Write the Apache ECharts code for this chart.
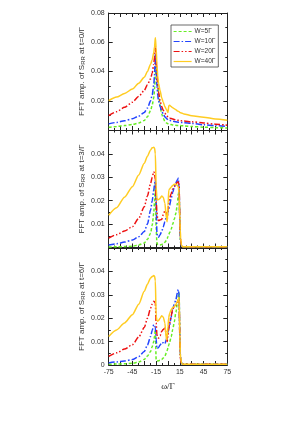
<!DOCTYPE html>
<html><head><meta charset="utf-8">
<script src="https://cdn.jsdelivr.net/npm/echarts@6/dist/echarts.min.js"></script>
<style>html,body{margin:0;padding:0;background:#fff}#c{width:300px;height:424px}</style>
</head><body><div id="c"></div>
<script>
var xs = [-75,-65,-55,-45,-37,-30,-26,-22,-20,-18,-17,-16,-15,-14,-13,-12,-10,-8,-6,-4,-2,-1,0,1,2,4,6,8,10,12,13,14,15,15.5,16,17,18,20,30,45,60,75];
var names = ['W=5\u0393','W=10\u0393','W=20\u0393','W=40\u0393'];
var xTicks = [-75,-45,-15,15,45,75];
var yLabels1 = ['0.02','0.04','0.06','0.08'];
var yLabels2 = ['0.01','0.02','0.03','0.04'];
var yLabels3 = ['0','0.01','0.02','0.03','0.04'];
var panelTitles = ['0','3','6'];

// panel 1 (t=0)
var p1_w5  = [0.0019,0.0024,0.003,0.0038,0.0048,0.0065,0.009,0.0133,0.017,0.022,0.028,0.037,0.045,0.038,0.031,0.025,0.017,0.011,0.008,0.006,0.005,0.0045,0.0042,0.004,0.0039,0.0037,0.0035,0.0033,0.0032,0.0031,0.0031,0.003,0.003,0.003,0.003,0.0029,0.0029,0.0028,0.0024,0.0019,0.0016,0.0014];
var p1_w10 = [0.0042,0.0052,0.0063,0.0077,0.0095,0.012,0.015,0.020,0.024,0.031,0.038,0.052,0.042,0.030,0.024,0.020,0.016,0.013,0.011,0.009,0.008,0.0075,0.007,0.0068,0.0066,0.0063,0.006,0.0058,0.0056,0.0054,0.0053,0.0053,0.0052,0.0052,0.0052,0.0051,0.0051,0.005,0.0045,0.0036,0.003,0.0024];
var p1_w20 = [0.0099,0.0125,0.0155,0.019,0.023,0.027,0.031,0.035,0.039,0.045,0.050,0.057,0.048,0.038,0.031,0.026,0.020,0.016,0.0135,0.0115,0.0102,0.0095,0.0088,0.0085,0.0082,0.0078,0.0075,0.0072,0.0069,0.0067,0.0066,0.0065,0.0064,0.0064,0.0063,0.0063,0.0062,0.0061,0.0056,0.0048,0.004,0.0032];
var p1_w40 = [0.020,0.0225,0.025,0.028,0.032,0.036,0.040,0.045,0.048,0.053,0.057,0.063,0.056,0.045,0.037,0.032,0.027,0.022,0.019,0.016,0.014,0.013,0.012,0.0165,0.017,0.016,0.0152,0.0145,0.0138,0.013,0.0128,0.0125,0.012,0.0119,0.0118,0.0116,0.0114,0.011,0.0098,0.0088,0.0076,0.0066];
// panel 2 (t=3)
var p2_w5  = [0.0002,0.0003,0.0004,0.0005,0.0011,0.0019,0.0035,0.0061,0.0095,0.0147,0.020,0.027,0.008,0.002,0.0012,0.001,0.0011,0.0013,0.0016,0.0022,0.003,0.0038,0.0047,0.0055,0.0064,0.0078,0.010,0.0122,0.0147,0.019,0.023,0.024,0.012,0.004,0.002,0.0008,0.0004,0.0003,0.0003,0.0003,0.0003,0.0003];
var p2_w10 = [0.0011,0.0016,0.0023,0.0032,0.0046,0.0068,0.010,0.016,0.020,0.0246,0.027,0.0288,0.020,0.006,0.0045,0.0044,0.0055,0.0068,0.0088,0.011,0.013,0.014,0.015,0.0165,0.018,0.021,0.0235,0.026,0.0277,0.029,0.0296,0.025,0.012,0.004,0.002,0.0008,0.0004,0.0003,0.0003,0.0003,0.0003,0.0003];
var p2_w20 = [0.004,0.0055,0.007,0.0089,0.0125,0.0174,0.022,0.0274,0.030,0.0324,0.0315,0.029,0.020,0.015,0.012,0.0115,0.0118,0.012,0.014,0.0156,0.015,0.012,0.016,0.019,0.021,0.023,0.025,0.026,0.027,0.028,0.028,0.027,0.012,0.005,0.003,0.001,0.0004,0.0003,0.0003,0.0003,0.0003,0.0003];
var p2_w40 = [0.0138,0.017,0.0215,0.026,0.031,0.036,0.039,0.0417,0.0426,0.0428,0.0425,0.040,0.026,0.021,0.0203,0.0205,0.021,0.022,0.0215,0.019,0.0125,0.011,0.018,0.0245,0.025,0.0258,0.0265,0.027,0.027,0.0265,0.026,0.023,0.012,0.0075,0.004,0.001,0.0004,0.0003,0.0003,0.0003,0.0003,0.0003];
// panel 3 (t=6)
var p3_w5  = [0.0003,0.0004,0.0005,0.0007,0.0013,0.0024,0.0038,0.0058,0.0078,0.010,0.0125,0.015,0.0024,0.0018,0.0017,0.0018,0.002,0.0024,0.003,0.0038,0.0052,0.0062,0.0074,0.0085,0.0097,0.012,0.0152,0.0185,0.0225,0.027,0.0297,0.031,0.013,0.005,0.003,0.001,0.0004,0.0003,0.0003,0.0003,0.0003,0.0003];
var p3_w10 = [0.0009,0.0013,0.0017,0.0023,0.0036,0.0058,0.0085,0.0122,0.0148,0.0172,0.0168,0.016,0.011,0.007,0.0072,0.0075,0.0085,0.0096,0.0095,0.009,0.011,0.0125,0.014,0.0155,0.017,0.0205,0.024,0.026,0.028,0.031,0.0322,0.030,0.013,0.005,0.003,0.001,0.0004,0.0003,0.0003,0.0003,0.0003,0.0003];
var p3_w20 = [0.0037,0.0052,0.0068,0.0087,0.012,0.016,0.020,0.0243,0.026,0.0272,0.027,0.0265,0.018,0.013,0.012,0.0115,0.0125,0.0143,0.0152,0.0157,0.013,0.010,0.013,0.016,0.0178,0.021,0.024,0.025,0.0255,0.027,0.0277,0.027,0.012,0.004,0.002,0.0008,0.0004,0.0003,0.0003,0.0003,0.0003,0.0003];
var p3_w40 = [0.0122,0.015,0.018,0.0215,0.026,0.0315,0.0345,0.0372,0.0378,0.0382,0.038,0.036,0.021,0.019,0.0187,0.019,0.020,0.021,0.0205,0.018,0.0108,0.012,0.0165,0.0204,0.022,0.0236,0.0245,0.025,0.026,0.027,0.028,0.029,0.013,0.005,0.003,0.001,0.0004,0.0003,0.0003,0.0003,0.0003,0.0003];

var colors = ['#66ee22','#2244ff','#ee1111','#ffcc22'];
var dashes = [[3,2],[6,2,1.5,2],[6,2,1.5,2,1.5,2],'solid'];
var panels = [[p1_w5,p1_w10,p1_w20,p1_w40],[p2_w5,p2_w10,p2_w20,p2_w40],[p3_w5,p3_w10,p3_w20,p3_w40]];
var yMax = [0.08,0.05,0.05];
var yInt = [0.02,0.01,0.01];
var yLabelSets = [yLabels1,yLabels2,yLabels3];
var gridTops = [13,130.5,248];
var gridH = 117;

var grids=[],xAxes=[],yAxes=[],series=[];
var axisCol='#222';
for (var p=0;p<3;p++){
  grids.push({left:108.7,width:118.6,top:gridTops[p],height:gridH});
  var isLast = p===2;
  xAxes.push({gridIndex:p,type:'value',min:-75,max:75,interval:15,position:'bottom',
    axisLine:{onZero:false,lineStyle:{color:axisCol,width:1}},
    axisTick:{inside:true,length:4,lineStyle:{color:axisCol}},
    minorTick:{show:true,splitNumber:2,length:2,lineStyle:{color:axisCol}},
    splitLine:{show:false},
    axisLabel:{show:isLast,fontSize:7,color:'#333',margin:4,fontFamily:'Liberation Sans',
      formatter:function(v){return xTicks.indexOf(v)>=0?String(v):'';}},
    name:isLast?'\u03c9/\u0393':'',nameLocation:'middle',nameGap:17,
    nameTextStyle:{fontFamily:'Liberation Serif',fontSize:9,color:'#222'}});
  xAxes.push({gridIndex:p,type:'value',min:-75,max:75,interval:15,position:'top',
    axisLine:{onZero:false,lineStyle:{color:axisCol,width:1}},
    axisTick:{inside:true,length:4,lineStyle:{color:axisCol}},
    minorTick:{show:true,splitNumber:2,length:2,lineStyle:{color:axisCol}},
    splitLine:{show:false},axisLabel:{show:false}});
  (function(labels){
  yAxes.push({gridIndex:p,type:'value',min:0,max:yMax[p],interval:yInt[p],position:'left',
    axisLine:{onZero:false,lineStyle:{color:axisCol,width:1}},
    axisTick:{inside:true,length:4,lineStyle:{color:axisCol}},
    minorTick:{show:true,splitNumber:2,length:2,lineStyle:{color:axisCol}},
    splitLine:{show:false},
    axisLabel:{fontSize:7,color:'#333',margin:4,fontFamily:'Liberation Sans',
      formatter:function(v){var s=String(Math.round(v*1000)/1000);return labels.indexOf(s)>=0?s:'';}},
    name:'{a|FFT amp. of S}{s|RR}{a| at t='+panelTitles[p]+'/\u0393}',nameLocation:'middle',nameGap:22,
    nameTextStyle:{rich:{a:{fontSize:8,color:'#333',fontFamily:'Liberation Sans'},s:{fontSize:6,color:'#333',fontFamily:'Liberation Sans',padding:[4,0,0,0]}}}});
  })(yLabelSets[p]);
  yAxes.push({gridIndex:p,type:'value',min:0,max:yMax[p],interval:yInt[p],position:'right',
    axisLine:{onZero:false,lineStyle:{color:axisCol,width:1}},
    axisTick:{inside:true,length:4,lineStyle:{color:axisCol}},
    minorTick:{show:true,splitNumber:2,length:2,lineStyle:{color:axisCol}},
    splitLine:{show:false},axisLabel:{show:false}});
  for (var s=0;s<4;s++){
    var d=[];for(var i=0;i<xs.length;i++)d.push([xs[i],panels[p][s][i]]);
    series.push({type:'line',name:names[s],xAxisIndex:2*p,yAxisIndex:2*p,data:d,
      showSymbol:false,symbol:'none',smooth:0.25,smoothMonotone:'x',z:2+s,
      lineStyle:{color:colors[s],width:1.5,type:dashes[s]},itemStyle:{color:colors[s]}});
  }
}
var chart = echarts.init(document.getElementById('c'),null,{renderer:'canvas'});
chart.setOption({
  animation:false,backgroundColor:'#fff',
  grid:grids,xAxis:xAxes,yAxis:yAxes,series:series,
  legend:{data:names,left:171,top:25,orient:'vertical',itemWidth:18,itemHeight:6,itemGap:3,
    padding:[3,3,2,2],borderColor:'#444',borderWidth:0.8,backgroundColor:'#fff',
    itemStyle:{opacity:0},lineStyle:{width:1.2},
    textStyle:{fontSize:6.5,color:'#333',fontFamily:'Liberation Sans',padding:[0,0,0,-2]}}
});
</script></body></html>
